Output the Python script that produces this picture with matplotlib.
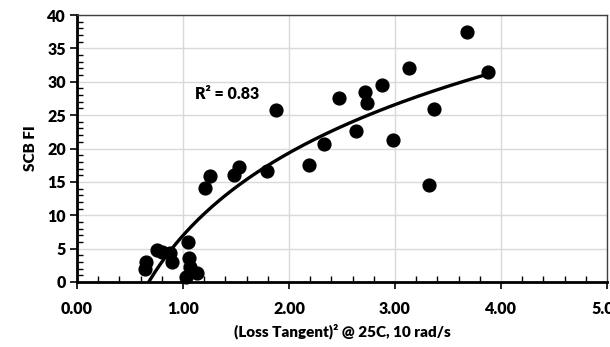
import numpy as np
import matplotlib
matplotlib.use("Agg")
import matplotlib.pyplot as plt
from matplotlib.ticker import MultipleLocator, FormatStrFormatter

# Data
loss_tangent_sq = [0.64, 0.65, 0.75, 0.80, 0.88, 0.90, 1.05, 1.06, 1.07, 1.03, 1.13,
                   1.21, 1.25, 1.48, 1.53, 1.79, 1.88, 2.19, 2.33, 2.47, 2.63,
                   2.72, 2.74, 2.88, 3.13, 3.68, 3.88, 3.37, 2.98, 3.32]
scb_fi = [2.0, 3.0, 4.8, 4.5, 4.3, 3.0, 6.0, 3.6, 2.3, 0.8, 1.3,
          14.1, 15.9, 16.1, 17.2, 16.7, 25.7, 17.6, 20.6, 27.6, 22.6,
          28.5, 26.8, 29.5, 32.1, 37.5, 31.4, 25.9, 21.2, 14.6]
r2_label = "R² = 0.83"
x_title = "(Loss Tangent)² @ 25C, 10 rad/s"
y_title = "SCB FI"

plt.rcParams['font.family'] = ['Lato', 'DejaVu Sans']

fig = plt.figure(figsize=(6.10, 3.47), dpi=100)
ax = fig.add_axes([77/610, (347-282)/347, (607-77)/610, (282-15)/347])

x = np.array(loss_tangent_sq)
y = np.array(scb_fi)
ax.scatter(x, y, s=85, color='black', zorder=3, clip_on=False)

# logarithmic trendline
a, b = np.polyfit(np.log(x), y, 1)
xt = np.linspace(x.min(), x.max(), 200)
ax.plot(xt, a*np.log(xt) + b, color='black', lw=2.4, zorder=4)

ax.set_xlim(0, 5)
ax.set_ylim(0, 40)
ax.xaxis.set_major_locator(MultipleLocator(1))
ax.xaxis.set_minor_locator(MultipleLocator(0.2))
ax.yaxis.set_major_locator(MultipleLocator(5))
ax.yaxis.set_minor_locator(MultipleLocator(1))
ax.xaxis.set_major_formatter(FormatStrFormatter('%.2f'))
ax.grid(True, which='major', color='#d9d9d9', lw=1.0)
ax.set_axisbelow(True)

ax.tick_params(which='major', direction='out', length=5, width=1.2, color='black',
               labelsize=11.5, pad=3)
ax.tick_params(which='minor', direction='in', length=4, width=1.0, color='black')
ax.tick_params(axis='x', pad=9)
for lab in ax.get_xticklabels() + ax.get_yticklabels():
    lab.set_fontweight('heavy')

for s in ['left', 'bottom']:
    ax.spines[s].set_linewidth(2.0)
    ax.spines[s].set_color('black')
for s in ['top', 'right']:
    ax.spines[s].set_linewidth(1.0)
    ax.spines[s].set_color('#404040')

ax.set_xlabel(x_title, fontsize=11, fontweight='heavy', labelpad=4)
ax.set_ylabel(y_title, fontsize=11, fontweight='heavy', labelpad=7)

ax.text(1.11, 28.1, r2_label, fontsize=11.5, fontweight='heavy', va='center', ha='left')

fig.savefig('out.png', dpi=100)
